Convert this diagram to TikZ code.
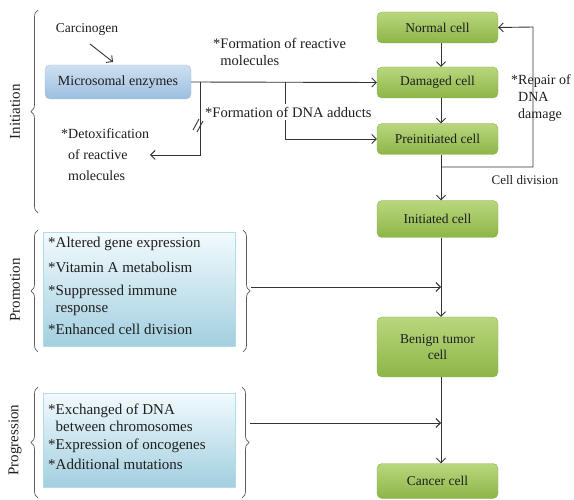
\documentclass[tikz,border=0pt]{standalone}
\usepackage{fontspec}
\setmainfont{Liberation Serif}
\usetikzlibrary{arrows.meta,decorations.pathreplacing,shadings}
\definecolor{gtop}{HTML}{B9D77E}
\definecolor{gbot}{HTML}{8DB547}
\definecolor{gedge}{HTML}{8AB24E}
\definecolor{btop}{HTML}{CFE0F1}
\definecolor{bbot}{HTML}{9BBEE0}
\definecolor{bedge}{HTML}{A3C2E0}
\definecolor{ctop}{HTML}{F2FAFD}
\definecolor{cbot}{HTML}{A2CFDF}
\definecolor{cedge}{HTML}{B1DCEA}
\definecolor{ink}{HTML}{333333}
\definecolor{txt}{HTML}{1E1E1E}
\tikzset{
  cellbox/.style={rounded corners=5pt, draw=gedge, top color=gtop, bottom color=gbot,
    minimum width=121pt, minimum height=31pt, align=center, font=\fontsize{13.5}{16}\selectfont, text=txt, inner sep=2pt},
  enzbox/.style={rounded corners=5pt, draw=bedge, top color=btop, bottom color=bbot,
    minimum width=146pt, minimum height=34pt, font=\fontsize{14}{16}\selectfont, text=txt},
  factbox/.style={draw=cedge, top color=ctop, bottom color=cbot, minimum width=192pt, inner sep=0pt},
  lbl/.style={font=\fontsize{14.5}{17}\selectfont, text=txt, align=left, inner sep=0pt},
  facttxt/.style={font=\fontsize{15}{17}\selectfont, text=txt, align=left, inner sep=0pt},
  stage/.style={font=\fontsize{15}{17}\selectfont, text=txt, rotate=90},
  conn/.style={draw=ink, line width=0.9pt},
  arr/.style={conn, -{Straight Barb[length=4.5pt,width=9pt]}},
  brc/.style={draw=ink!80, line width=0.7pt, decorate, decoration={brace, amplitude=7pt}}
}
\begin{document}
\begin{tikzpicture}[x=1pt,y=-1pt]
\useasboundingbox (0,0) rectangle (574,500);
% green cells
\node[cellbox] (normal) at (437.5,27.5) {Normal cell};
\node[cellbox] (damaged) at (437.5,82.5) {Damaged cell};
\node[cellbox] (preinit) at (437.5,139) {Preinitiated cell};
\node[cellbox, minimum height=37pt] (initiated) at (437.5,219) {Initiated cell};
\node[cellbox, minimum height=60pt] (benign) at (437.5,347) {Benign tumor\\cell};
\node[cellbox, minimum height=35pt] (cancer) at (437.5,481) {Cancer cell};
% enzymes
\node[enzbox] (enz) at (118,82) {Microsomal enzymes};
\node[lbl, font=\fontsize{13.5}{16}\selectfont] (carc) at (87,29) {Carcinogen};
% fact boxes
\node[factbox, minimum height=114pt] (promo) at (139,289.5) {};
\node[factbox, minimum height=94pt] (progr) at (139,440) {};
\node[facttxt, anchor=north west] (promotxt) at (48,236.5) {*Altered gene expression\\[8pt]*Vitamin A metabolism\\[6pt]*Suppressed immune\\[0pt]\phantom{*}response\\[5pt]*Enhanced cell division};
\node[facttxt, anchor=north west] (progrtxt) at (48,403.5) {*Exchanged of DNA\\[0pt]\phantom{*}between chromosomes\\[1pt]*Expression of oncogenes\\[3pt]*Additional mutations};
% stage labels
\node[stage] (sinit) at (15,112) {Initiation};
\node[stage] (spromo) at (15,290) {Promotion};
\node[stage] (sprogr) at (15,440) {Progression};
% braces
\draw[brc] (38,213) -- (38,10);
\draw[brc] (38,352) -- (38,230);
\draw[brc] (243,230) -- (243,352);
\draw[brc] (38,498) -- (38,387);
\draw[brc] (242,387) -- (242,498);
% connectors
\draw[arr] (90,44) -- (113,62);
\draw[arr] (normal.south -| 441,0) -- (damaged.north -| 441,0);
\draw[arr] (damaged.south -| 441,0) -- (preinit.north -| 441,0);
\draw[arr] (preinit.south -| 441,0) -- (initiated.north -| 441,0);
\draw[arr] (initiated.south -| 441,0) -- (benign.north -| 441,0);
\draw[arr] (benign.south -| 441,0) -- (cancer.north -| 441,0);
\draw[arr] (enz.east) -- (damaged.west);
\coordinate (b1) at (285,82);
\coordinate (b2) at (200,82);
\coordinate (dx) at (150,155);
\draw[arr] (b1) |- (preinit.west);
\draw[arr] (b2) |- (dx);
\draw[conn] (193,130) -- (199,119);
\draw[conn] (197,132) -- (203,121);
\coordinate (c1) at (441,167);
\draw[arr] (c1) -| (533,27) -- (normal.east);
% promotion / progression arrows
\coordinate (pa) at (441,287);
\coordinate (pg) at (441,423);
\draw[arr] (251,287) -- (pa);
\draw[arr] (250,423) -- (pg);
% labels
\node[lbl, anchor=north west] (freact) at (213,38) {*Formation of reactive\\[0pt]\phantom{*}molecules};
\node[lbl, anchor=west, fill=white, inner ysep=3pt] (fdna) at (205,112) {*Formation of DNA adducts};
\node[lbl, anchor=north west, font=\fontsize{14}{21}\selectfont] (detox) at (61,128) {*Detoxification\\\phantom{*}of reactive\\\phantom{*}molecules};
\node[lbl, anchor=north west, font=\fontsize{14}{17}\selectfont] (repair) at (511,74) {*Repair of\\\phantom{*}DNA\\\phantom{*}damage};
\node[lbl, font=\fontsize{13}{15}\selectfont] (celldiv) at (525,180) {Cell division};
\end{tikzpicture}
\end{document}
